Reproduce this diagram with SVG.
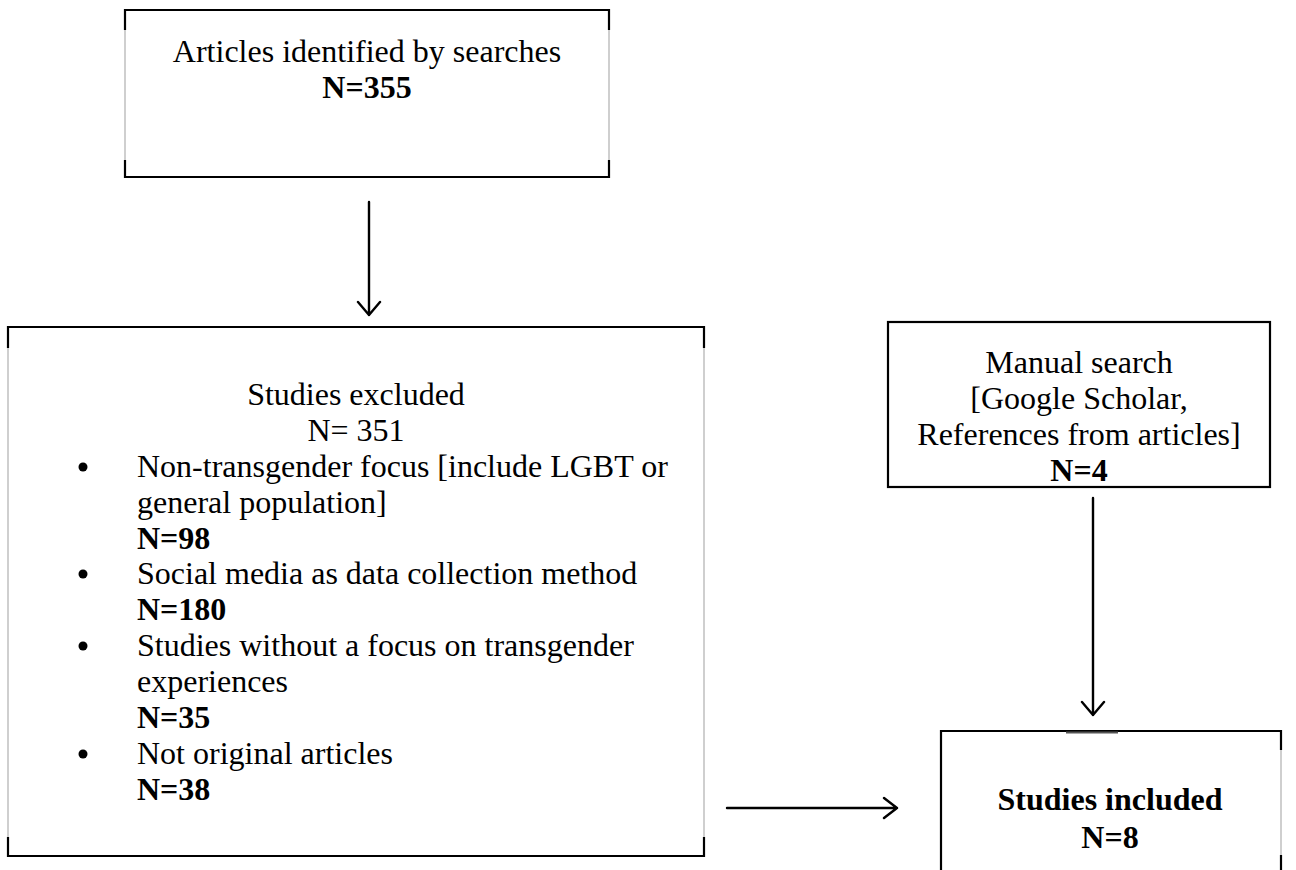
<svg xmlns="http://www.w3.org/2000/svg" width="1296" height="870" viewBox="0 0 1296 870">
<style>
.t{font-family:"Liberation Serif","Times New Roman",serif;font-size:32px;fill:#000}
.b{font-weight:bold}
.m{text-anchor:middle}
.edge{stroke:#000;stroke-width:2.2;fill:none}
.side{stroke:#c4c4c4;stroke-width:1.6;fill:none}
.dark{stroke:#000;stroke-width:2.2;fill:none}
.con{stroke:#000;stroke-width:2.4;fill:none;stroke-linecap:round;stroke-linejoin:round}
</style>
<rect width="1296" height="870" fill="#fff"/>
<g id="n1">
<path class="side" d="M125 10V177M609 10V177"/>
<path class="dark" d="M125 30V10H609V30M125 160V177H609V160"/>
<text class="t m" x="367" y="62">Articles identified by searches</text>
<text class="t m b" x="367" y="98">N=355</text>
</g>
<g id="n2">
<path class="side" d="M8 327V856M704 327V856"/>
<path class="dark" d="M8 348V327H704V348M8 837V856H704V837"/>
<text class="t m" x="356" y="405">Studies excluded</text>
<text class="t m" x="356" y="441">N= 351</text>
<circle cx="83" cy="467" r="4.5"/>
<text class="t" x="137" y="477">Non-transgender focus [include LGBT or</text>
<text class="t" x="137" y="513">general population]</text>
<text class="t b" x="137" y="549">N=98</text>
<circle cx="83" cy="574" r="4.5"/>
<text class="t" x="137" y="584">Social media as data collection method</text>
<text class="t b" x="137" y="620">N=180</text>
<circle cx="83" cy="646" r="4.5"/>
<text class="t" x="137" y="656">Studies without a focus on transgender</text>
<text class="t" x="137" y="692">experiences</text>
<text class="t b" x="137" y="728">N=35</text>
<circle cx="83" cy="754" r="4.5"/>
<text class="t" x="137" y="764">Not original articles</text>
<text class="t b" x="137" y="800">N=38</text>
</g>
<g id="n3">
<rect class="edge" x="888" y="322" width="382" height="165"/>
<text class="t m" x="1079" y="373">Manual search</text>
<text class="t m" x="1079" y="409">[Google Scholar,</text>
<text class="t m" x="1079" y="445">References from articles]</text>
<text class="t m b" x="1079" y="481">N=4</text>
</g>
<g id="n4">
<path class="side" d="M941 731V872M1281 731V872"/>
<path class="dark" d="M941 872V731H1281V750M1281 855V872"/>
<path d="M1066 732.5H1118" stroke="#555" stroke-width="2"/>
<text class="t m b" x="1110" y="810">Studies included</text>
<text class="t m b" x="1110" y="848">N=8</text>
</g>
<g id="connectors">
<path class="con" d="M369 202V315M358 302L369 315L380 302"/>
<path class="con" d="M1093 498V715M1082 702L1093 715L1104 702"/>
<path class="con" d="M727 808H897M884 798L897 808L884 818"/>
</g>
</svg>
